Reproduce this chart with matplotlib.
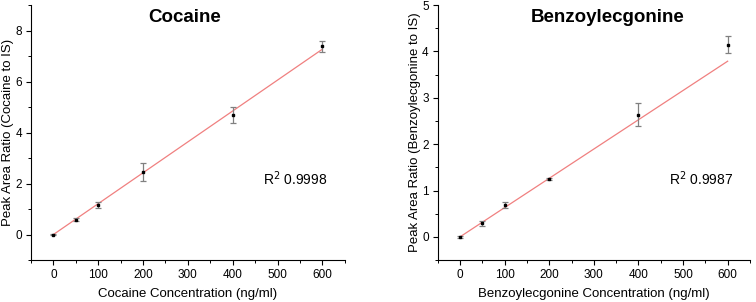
import numpy as np
import matplotlib.pyplot as plt

plt.rcParams['font.family'] = ['Liberation Sans', 'DejaVu Sans']

# concentrations (ng/ml)
conc = [0, 50, 100, 200, 400, 600]

# cocaine peak area ratios, error, fit
coc_ratio = [0.0, 0.58, 1.15, 2.44, 4.70, 7.38]
coc_err = [0.02, 0.06, 0.12, 0.35, 0.31, 0.22]
coc_fit = [0.0, 7.27]
coc_r2 = "0.9998"

# benzoylecgonine
bze_ratio = [0.0, 0.29, 0.69, 1.24, 2.64, 4.15]
bze_err = [0.02, 0.06, 0.07, 0.02, 0.24, 0.19]
bze_fit = [0.0, 3.79]
bze_r2 = "0.9987"

fig = plt.figure(figsize=(7.56, 3.02), dpi=100)
ax1 = fig.add_axes([0.041, 0.139, 0.415, 0.844])
ax2 = fig.add_axes([0.579, 0.139, 0.413, 0.844])

panels = [
    (ax1, "Cocaine", coc_ratio, coc_err, coc_fit, coc_r2, (-1, 9), [0, 2, 4, 6, 8], 1,
     "Peak Area Ratio (Cocaine to IS)", "Cocaine Concentration (ng/ml)", 0.49),
    (ax2, "Benzoylecgonine", bze_ratio, bze_err, bze_fit, bze_r2, (-0.5, 5), [0, 1, 2, 3, 4, 5], 0.5,
     "Peak Area Ratio (Benzoylecgonine to IS)", "Benzoylecgonine Concentration (ng/ml)", 0.545),
]

for ax, title, y, err, fit, r2, ylim, yticks, yminor, ylab, xlab, tx in panels:
    ax.plot([conc[0], conc[-1]], fit, color='#f08080', lw=0.9, zorder=1)
    ax.errorbar(conc, y, yerr=err, fmt='s', ms=1.5, color='black',
                ecolor='#808080', elinewidth=0.9, capsize=2.5, capthick=0.9, zorder=2)
    ax.set_xlim(-50, 650)
    ax.set_ylim(*ylim)
    ax.set_xticks([0, 100, 200, 300, 400, 500, 600])
    ax.set_xticks(np.arange(-50, 651, 50), minor=True)
    ax.set_yticks(yticks)
    ax.set_yticks(np.arange(ylim[0], ylim[1] + 0.01, yminor), minor=True)
    ax.spines['top'].set_visible(False)
    ax.spines['right'].set_visible(False)
    ax.tick_params(direction='out', length=3.5, width=0.8, labelsize=8.5, pad=3)
    ax.tick_params(which='minor', direction='out', length=2, width=0.7)
    ax.set_xlabel(xlab, fontsize=9.5, labelpad=5)
    ax.set_ylabel(ylab, fontsize=9.5, labelpad=1)
    ax.text(tx, 0.985, title, transform=ax.transAxes, ha='center', va='top',
            fontsize=13.5, fontweight='bold')
    ax.text(0.74, 0.32, "R$^2$ " + r2, transform=ax.transAxes, ha='left', va='center',
            fontsize=10)

fig.savefig("out.png", dpi=100)
